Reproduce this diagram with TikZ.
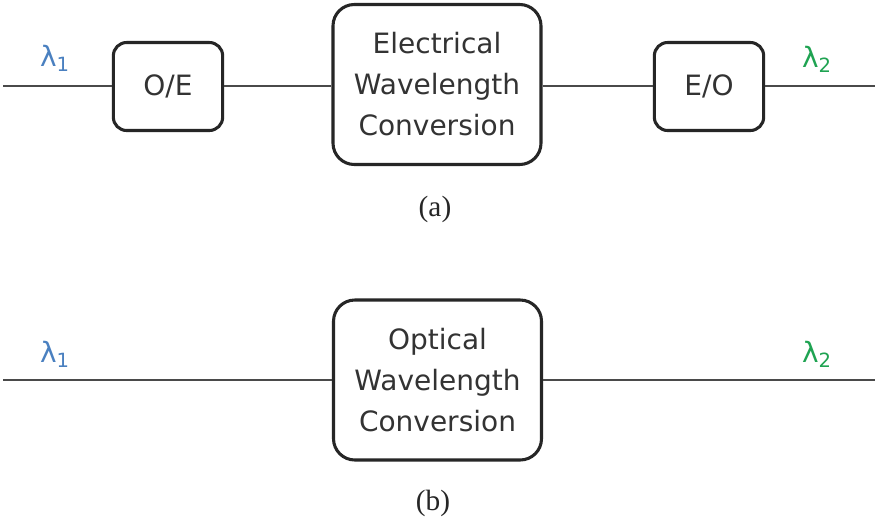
\documentclass[tikz,border=0pt]{standalone}
\usepackage{fontspec}
\setmainfont{DejaVu Sans}
\newfontfamily\capfont{Liberation Serif}
\definecolor{lblue}{HTML}{4A80C0}
\definecolor{lgreen}{HTML}{1FA352}
\definecolor{txt}{HTML}{333333}
\definecolor{wire}{HTML}{4A4A4A}
\begin{document}
\begin{tikzpicture}[x=0.75pt,y=-0.75pt,
  blockbox/.style={draw=black!85,line width=2.3pt,rounded corners=11pt,fill=white,
    inner sep=0pt,align=center,text=txt,
    font=\fontsize{21pt}{30.75pt}\selectfont},
  smallbox/.style={blockbox,minimum width=82pt,minimum height=66pt,rounded corners=10pt},
  bigbox/.style={blockbox,minimum width=156pt,minimum height=120pt,rounded corners=16pt},
  wireline/.style={draw=wire,line width=0.9pt},
  lam/.style={inner sep=0pt,font=\fontsize{21pt}{25pt}\selectfont},
  caption/.style={inner sep=0pt,font=\capfont\fontsize{22pt}{26pt}\selectfont,text=black!85}]
\useasboundingbox[fill=white] (0,0) rectangle (877,522);

% (a) electrical
\coordinate (ain) at (3,86);
\coordinate (aout) at (875,86);
\node[smallbox] (oe) at (168,86.5) {O/E};
\node[bigbox] (ewc) at (437,84.5) {Electrical\\Wavelength\\Conversion};
\node[smallbox] (eo) at (709,86.5) {E/O};
\draw[wireline] (ain) -- (oe.west |- ain);
\draw[wireline] (oe.east |- ain) -- (ewc.west |- ain);
\draw[wireline] (ewc.east |- ain) -- (eo.west |- ain);
\draw[wireline] (eo.east |- aout) -- (aout);
\node[lam,text=lblue] (l1a) at (55,58) {λ\textsubscript{1}};
\node[lam,text=lgreen] (l2a) at (817,59) {λ\textsubscript{2}};
\node[caption] (capa) at (435,209) {(a)};

% (b) optical
\coordinate (bin) at (3,380);
\coordinate (bout) at (875,380);
\node[bigbox] (owc) at (437.5,380) {Optical\\Wavelength\\Conversion};
\draw[wireline] (bin) -- (owc.west |- bin);
\draw[wireline] (owc.east |- bout) -- (bout);
\node[lam,text=lblue] (l1b) at (55,354) {λ\textsubscript{1}};
\node[lam,text=lgreen] (l2b) at (817,354) {λ\textsubscript{2}};
\node[caption] (capb) at (433,503) {(b)};
\end{tikzpicture}
\end{document}
